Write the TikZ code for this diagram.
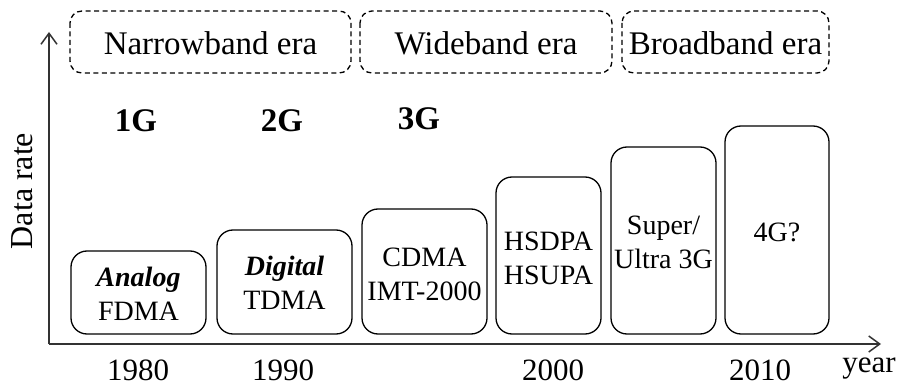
\documentclass[tikz,border=0pt]{standalone}
\usepackage{fontspec}
\setmainfont{Liberation Serif}
\usetikzlibrary{arrows.meta}
\tikzset{
  era/.style={draw, dashed, dash pattern=on 5pt off 3.5pt, line width=1.3pt, rounded corners=12pt},
  gen/.style={draw, line width=1.3pt, rounded corners=16pt},
  boxtext/.style={align=center, font=\fontsize{28}{34}\selectfont},
  eratext/.style={font=\fontsize{33}{38}\selectfont},
  gentext/.style={font=\fontsize{33}{38}\selectfont\bfseries},
  yeartext/.style={font=\fontsize{31}{36}\selectfont},
  axis/.style={line width=1.8pt, draw=black!80, -{Straight Barb[length=11pt,width=16pt,line width=1.5pt]}}
}
\begin{document}
\begin{tikzpicture}[x=1pt,y=-1pt]
\useasboundingbox (0,0) rectangle (903,390);

% axes
\coordinate (origin) at (49,344);
\coordinate (xend) at (881,344);
\coordinate (yend) at (49,32);
\draw[axis] (origin) -- (xend);
\draw[axis] (origin) -- (yend);
\node[rotate=90, font=\fontsize{32}{36}\selectfont] (ylabel) at (22,191) {Data rate};

% eras
\draw[era] (70,11) rectangle (351,73);
\draw[era] (360,11) rectangle (612,73);
\draw[era] (622,11) rectangle (829,73);
\node[eratext] (narrow) at (210.5,43) {Narrowband era};
\node[eratext] (wide) at (486,43) {Wideband era};
\node[eratext] (broad) at (725.5,43) {Broadband era};

% generations
\node[gentext] (g1) at (136,121) {1G};
\node[gentext] (g2) at (282,121) {2G};
\node[gentext] (g3) at (419,119) {3G};

% technology blocks
\draw[gen] (71,251) rectangle (206,334);
\draw[gen] (217,230) rectangle (352,334);
\draw[gen] (362,209) rectangle (487,334);
\draw[gen] (496,177) rectangle (601,334);
\draw[gen] (611,147) rectangle (716,334);
\draw[gen] (725,126) rectangle (829,334);
\node[boxtext] (b1) at (138.5,294) {\textbf{\textit{Analog}}\\FDMA};
\node[boxtext] (b2) at (284.5,283) {\textbf{\textit{Digital}}\\TDMA};
\node[boxtext] (b3) at (424.5,274) {CDMA\\IMT-2000};
\node[boxtext] (b4) at (548.5,258) {HSDPA\\HSUPA};
\node[boxtext] (b5) at (663.5,242) {Super/\\Ultra 3G};
\node[boxtext] (b6) at (777,232) {4G?};

% years
\node[yeartext] (y1980) at (138,370) {1980};
\node[yeartext] (y1990) at (283,370) {1990};
\node[yeartext] (y2000) at (553,370) {2000};
\node[yeartext] (y2010) at (760,370) {2010};
\node[yeartext] (year) at (869,369) {year};
\end{tikzpicture}
\end{document}
